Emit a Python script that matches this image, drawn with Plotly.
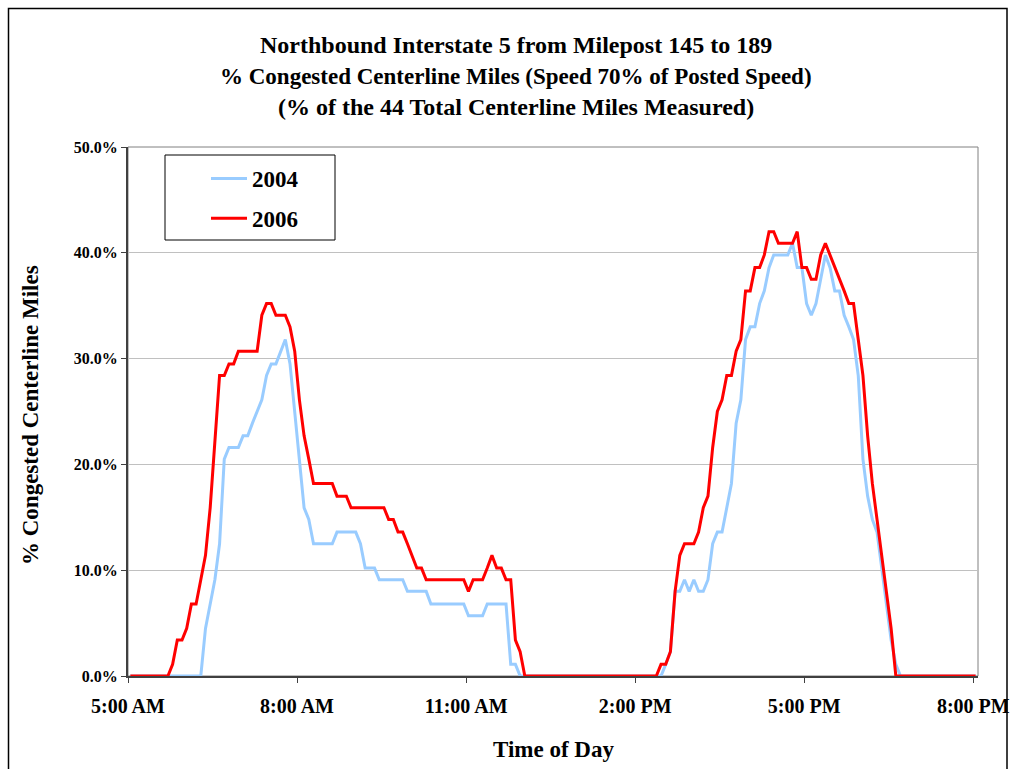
import plotly.graph_objects as go
import pandas as pd

# ---- data (5-minute bins, 5:00 AM .. 8:00 PM) ----
start_time = "2006-01-01 05:00"
end_time = "2006-01-01 20:00"
times = pd.date_range(start_time, end_time, freq="5min")

pct_2004 = [
    0, 0, 0, 0, 0, 0, 0, 0, 0,
    0, 0, 0, 0, 0, 0, 0, 4.5, 6.8, 9.1,
    12.5, 20.5, 21.6, 21.6, 21.6, 22.7, 22.7, 23.9, 25.0, 26.1,
    28.4, 29.5, 29.5, 30.7, 31.8, 29.5, 25.0, 20.5, 15.9, 14.8,
    12.5, 12.5, 12.5, 12.5, 12.5, 13.6, 13.6, 13.6, 13.6, 13.6,
    12.5, 10.2, 10.2, 10.2, 9.1, 9.1, 9.1, 9.1, 9.1, 9.1,
    8.0, 8.0, 8.0, 8.0, 8.0, 6.8, 6.8, 6.8, 6.8, 6.8,
    6.8, 6.8, 6.8, 5.7, 5.7, 5.7, 5.7, 6.8, 6.8, 6.8,
    6.8, 6.8, 1.1, 1.1, 0, 0, 0, 0, 0, 0,
    0, 0, 0, 0, 0, 0, 0, 0, 0, 0,
    0, 0, 0, 0, 0, 0, 0, 0, 0, 0,
    0, 0, 0, 0, 0, 1.1, 2.3, 8.0, 8.0, 9.1,
    8.0, 9.1, 8.0, 8.0, 9.1, 12.5, 13.6, 13.6, 15.9, 18.2,
    23.9, 26.1, 31.8, 33.0, 33.0, 35.2, 36.4, 38.6, 39.8, 39.8,
    39.8, 39.8, 40.9, 38.6, 38.6, 35.2, 34.1, 35.2, 37.5, 39.8,
    38.6, 36.4, 36.4, 34.1, 33.0, 31.8, 28.4, 20.5, 17.0, 14.8,
    13.6, 10.2, 6.8, 3.4, 1.1, 0, 0, 0, 0, 0,
    0, 0, 0, 0, 0, 0, 0, 0, 0, 0,
    0, 0,
]

pct_2006 = [
    0, 0, 0, 0, 0, 0, 0, 0, 0,
    1.1, 3.4, 3.4, 4.5, 6.8, 6.8, 9.1, 11.4, 15.9, 22.7,
    28.4, 28.4, 29.5, 29.5, 30.7, 30.7, 30.7, 30.7, 30.7, 34.1,
    35.2, 35.2, 34.1, 34.1, 34.1, 33.0, 30.7, 26.1, 22.7, 20.5,
    18.2, 18.2, 18.2, 18.2, 18.2, 17.0, 17.0, 17.0, 15.9, 15.9,
    15.9, 15.9, 15.9, 15.9, 15.9, 15.9, 14.8, 14.8, 13.6, 13.6,
    12.5, 11.4, 10.2, 10.2, 9.1, 9.1, 9.1, 9.1, 9.1, 9.1,
    9.1, 9.1, 9.1, 8.0, 9.1, 9.1, 9.1, 10.2, 11.4, 10.2,
    10.2, 9.1, 9.1, 3.4, 2.3, 0, 0, 0, 0, 0,
    0, 0, 0, 0, 0, 0, 0, 0, 0, 0,
    0, 0, 0, 0, 0, 0, 0, 0, 0, 0,
    0, 0, 0, 0, 1.1, 1.1, 2.3, 8.0, 11.4, 12.5,
    12.5, 12.5, 13.6, 15.9, 17.0, 21.6, 25.0, 26.1, 28.4, 28.4,
    30.7, 31.8, 36.4, 36.4, 38.6, 38.6, 39.8, 42.0, 42.0, 40.9,
    40.9, 40.9, 40.9, 42.0, 38.6, 38.6, 37.5, 37.5, 39.8, 40.9,
    39.8, 38.6, 37.5, 36.4, 35.2, 35.2, 31.8, 28.4, 22.7, 18.2,
    14.8, 11.4, 8.0, 4.5, 0, 0, 0, 0, 0, 0,
    0, 0, 0, 0, 0, 0, 0, 0, 0, 0,
    0, 0,
]

series_names = ["2004", "2006"]
series_colors = ["#99CCFF", "#FF0000"]

tick_labels = ["5:00 AM", "8:00 AM", "11:00 AM", "2:00 PM", "5:00 PM", "8:00 PM"]
# category boundaries (Excel "between tick marks" layout)
tick_positions = ["2006-01-01 04:57:30", "2006-01-01 07:57:30", "2006-01-01 10:57:30",
                  "2006-01-01 13:57:30", "2006-01-01 16:57:30", "2006-01-01 19:57:30"]
x_range = ["2006-01-01 04:57:30", "2006-01-01 20:02:30"]

title_lines = [
    "Northbound Interstate 5 from Milepost 145 to 189",
    "% Congested Centerline Miles (Speed 70% of Posted Speed)",
    "(% of the 44 Total Centerline Miles Measured)",
]
title_sizes = [24, 23, 24]
x_title = "Time of Day"
y_title = "% Congested Centerline Miles"

FONT = "Liberation Serif"

fig = go.Figure()
for name, vals, col in zip(series_names, [pct_2004, pct_2006], series_colors):
    fig.add_trace(go.Scatter(
        x=times, y=vals, mode="lines", name=name,
        legendgroup=name,
        line=dict(color=col, width=3),
    ))

FIG_W, FIG_H = 1011, 769
# plot area in page pixels: x 128..978, y 147..676
L, R, T, B = 128, 978, 147, 676
def px(x):
    return (x - L) / (R - L)
def py(y):
    return (B - y) / (B - T)

annotations = []
for yy, txt, sz in zip([45, 76, 107], title_lines, title_sizes):
    annotations.append(dict(
        text=txt, x=px(516), y=py(yy), xref="paper", yref="paper",
        xanchor="center", yanchor="middle", showarrow=False,
        font=dict(family=FONT, size=sz, color="black", weight="bold"),
    ))
annotations.append(dict(
    text=x_title, x=px(553), y=py(749), xref="paper", yref="paper",
    xanchor="center", yanchor="middle", showarrow=False,
    font=dict(family=FONT, size=23, color="black", weight="bold"),
))
annotations.append(dict(
    text=y_title, x=px(30), y=py(415), xref="paper", yref="paper",
    xanchor="center", yanchor="middle", showarrow=False, textangle=-90,
    font=dict(family=FONT, size=23, color="black", weight="bold"),
))

shapes = [
    # outer chart border
    dict(type="rect", xref="paper", yref="paper",
         x0=px(8.5), x1=px(1007), y0=py(800), y1=py(8.5),
         line=dict(color="black", width=1.5), layer="below"),
    # plot area frame
    dict(type="rect", xref="paper", yref="paper",
         x0=0, x1=1, y0=0, y1=1,
         line=dict(color="#808080", width=1), layer="below"),
    # legend box
    dict(type="rect", xref="paper", yref="paper",
         x0=px(165), x1=px(335), y0=py(240), y1=py(155),
         line=dict(color="black", width=1), fillcolor="white", layer="above"),
]

fig.update_layout(
    width=FIG_W, height=FIG_H,
    margin=dict(l=L, r=FIG_W - R, t=T, b=FIG_H - B),
    paper_bgcolor="white", plot_bgcolor="white",
    showlegend=True,
    legend=dict(
        x=px(206), y=py(157), xanchor="left", yanchor="top",
        bgcolor="rgba(0,0,0,0)", borderwidth=0,
        font=dict(family=FONT, size=23, color="black", weight="bold"),
        tracegroupgap=7, traceorder="grouped",
        itemwidth=36,
    ),
    annotations=annotations,
    shapes=shapes,
    font=dict(family=FONT, color="black"),
)

fig.update_xaxes(
    type="date", range=x_range, automargin=False,
    tickvals=tick_positions, ticktext=tick_labels,
    showgrid=False, zeroline=False,
    showline=True, linecolor="#404040", linewidth=2,
    ticks="outside", ticklen=5, tickcolor="#404040", tickwidth=1,
    ticklabelstandoff=6,
    tickfont=dict(family=FONT, size=20, color="black", weight="bold"),
    layer="below traces",
)
fig.update_yaxes(
    range=[0, 50], dtick=10, tickformat=".1f", ticksuffix="%", automargin=False,
    showgrid=True, gridcolor="#c0c0c0", gridwidth=1,
    zeroline=False,
    showline=True, linecolor="#404040", linewidth=2,
    ticks="outside", ticklen=5, tickcolor="#404040", tickwidth=1,
    tickfont=dict(family=FONT, size=16, color="black", weight="bold"),
    layer="below traces",
)

# remove the default page margin so the 1011x769 figure fills the window exactly
fig.write_html(
    "out.html",
    config={"displayModeBar": False},
    post_script="document.body.style.margin='0';document.body.style.overflow='hidden';",
)
